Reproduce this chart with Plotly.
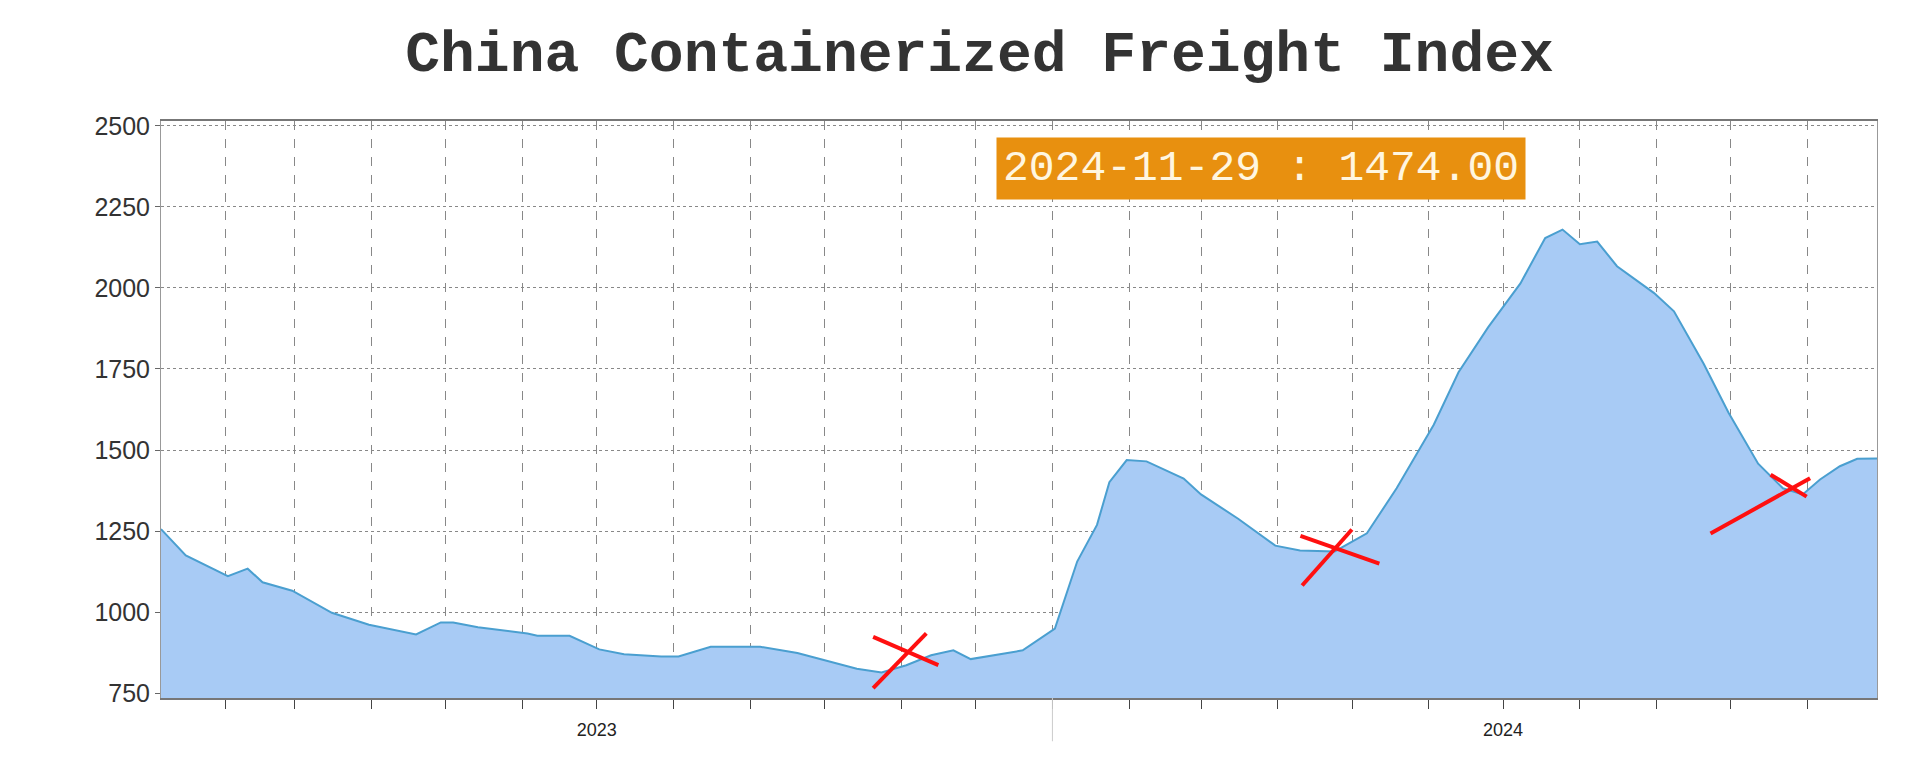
import plotly.graph_objects as go

# weekly CCFI readings (approximate)
dates = ["2023-01-06", "2023-01-16", "2023-02-02", "2023-02-10", "2023-02-16", "2023-02-28",
         "2023-03-16", "2023-03-31", "2023-04-19", "2023-04-29", "2023-05-04", "2023-05-14",
         "2023-06-03", "2023-06-07", "2023-06-20", "2023-07-02", "2023-07-12", "2023-07-27",
         "2023-08-03", "2023-08-16", "2023-09-05", "2023-09-20", "2023-10-14", "2023-10-24",
         "2023-11-03", "2023-11-13", "2023-11-22", "2023-11-29", "2023-12-20", "2024-01-02",
         "2024-01-11", "2024-01-19", "2024-01-24", "2024-01-31", "2024-02-08", "2024-02-23",
         "2024-03-01", "2024-03-16", "2024-03-31", "2024-04-10", "2024-04-24", "2024-05-07",
         "2024-05-19", "2024-06-03", "2024-06-13", "2024-06-25", "2024-07-08", "2024-07-18",
         "2024-07-25", "2024-08-01", "2024-08-08", "2024-08-16", "2024-08-31", "2024-09-08",
         "2024-09-20", "2024-09-30", "2024-10-12", "2024-10-22", "2024-10-30", "2024-11-06",
         "2024-11-14", "2024-11-21", "2024-11-29"]
values = [1256, 1175, 1111, 1134, 1092, 1066,
          998, 961, 931, 968, 968, 953,
          934, 927, 927, 885, 870, 863,
          863, 893, 893, 874, 825, 814,
          836, 867, 882, 855, 882, 949,
          1156, 1269, 1401, 1469, 1465, 1412,
          1363, 1288, 1205, 1190, 1187, 1243,
          1382, 1578, 1740, 1879, 2014, 2154,
          2180, 2135, 2143, 2067, 1984, 1928,
          1766, 1616, 1458, 1382, 1363, 1409,
          1450, 1473, 1474]
year_ticks = ["2023-07-01", "2024-07-01"]
year_labels = ["2023", "2024"]

fig = go.Figure()
fig.add_trace(go.Scatter(x=dates, y=values, mode="lines", fill="tozeroy",
                         line=dict(color="#4a9fd0", width=2), fillcolor="#a8cbf5",
                         hoverinfo="x+y"))

fig.update_xaxes(range=["2023-01-06", "2024-11-29"], tickvals=year_ticks, ticktext=year_labels,
                 ticks="", showgrid=False, showline=True, linecolor="#777", linewidth=2,
                 ticklabelstandoff=14,
                 tickfont=dict(family="Liberation Sans", size=18, color="#222"),
                 minor=dict(dtick="M1", tick0="2023-01-01", ticks="outside", ticklen=9,
                            tickcolor="#444", showgrid=True, gridcolor="#888",
                            griddash="dash", gridwidth=1),
                 mirror=True)
fig.update_yaxes(range=[735, 2515], tickvals=[750, 1000, 1250, 1500, 1750, 2000, 2250, 2500],
                 ticks="outside", ticklen=5, tickcolor="#666", showgrid=True, gridcolor="#888",
                 griddash="dot", gridwidth=1, zeroline=False, showline=True, linecolor="#999",
                 mirror=True, tickfont=dict(family="Liberation Sans", size=25, color="#333"))

# year separator below the axis
fig.add_shape(type="line", xref="x", yref="paper", x0="2024-01-01", x1="2024-01-01",
              y0=0, y1=-0.075, line=dict(color="#ccc", width=1))

# hand drawn red crosses
crosses = [(0.415, 0.017, 0.446, 0.112), (0.415, 0.106, 0.453, 0.057),
           (0.665, 0.195, 0.694, 0.292), (0.664, 0.281, 0.710, 0.233),
           (0.903, 0.285, 0.961, 0.381), (0.938, 0.387, 0.959, 0.349)]
for x0, y0, x1, y1 in crosses:
    fig.add_shape(type="line", xref="paper", yref="paper", x0=x0, y0=y0, x1=x1, y1=y1,
                  line=dict(color="#ff1010", width=4))

fig.add_annotation(xref="paper", yref="paper", x=0.641, y=0.972, showarrow=False,
                   text="2024-11-29 : 1474.00", bgcolor="#e8900f", borderpad=6,
                   font=dict(family="Liberation Mono", size=43, color="#fff6e0"))

fig.update_layout(
    title=dict(text="<b>China Containerized Freight Index</b>", x=0.506, y=0.945,
               xanchor="center", yanchor="middle",
               font=dict(family="Liberation Mono", size=58, color="#333")),
    width=1920, height=768, plot_bgcolor="white", paper_bgcolor="white",
    margin=dict(l=153, r=51, t=113, b=78), showlegend=False,
)

fig.write_html("out.html")
